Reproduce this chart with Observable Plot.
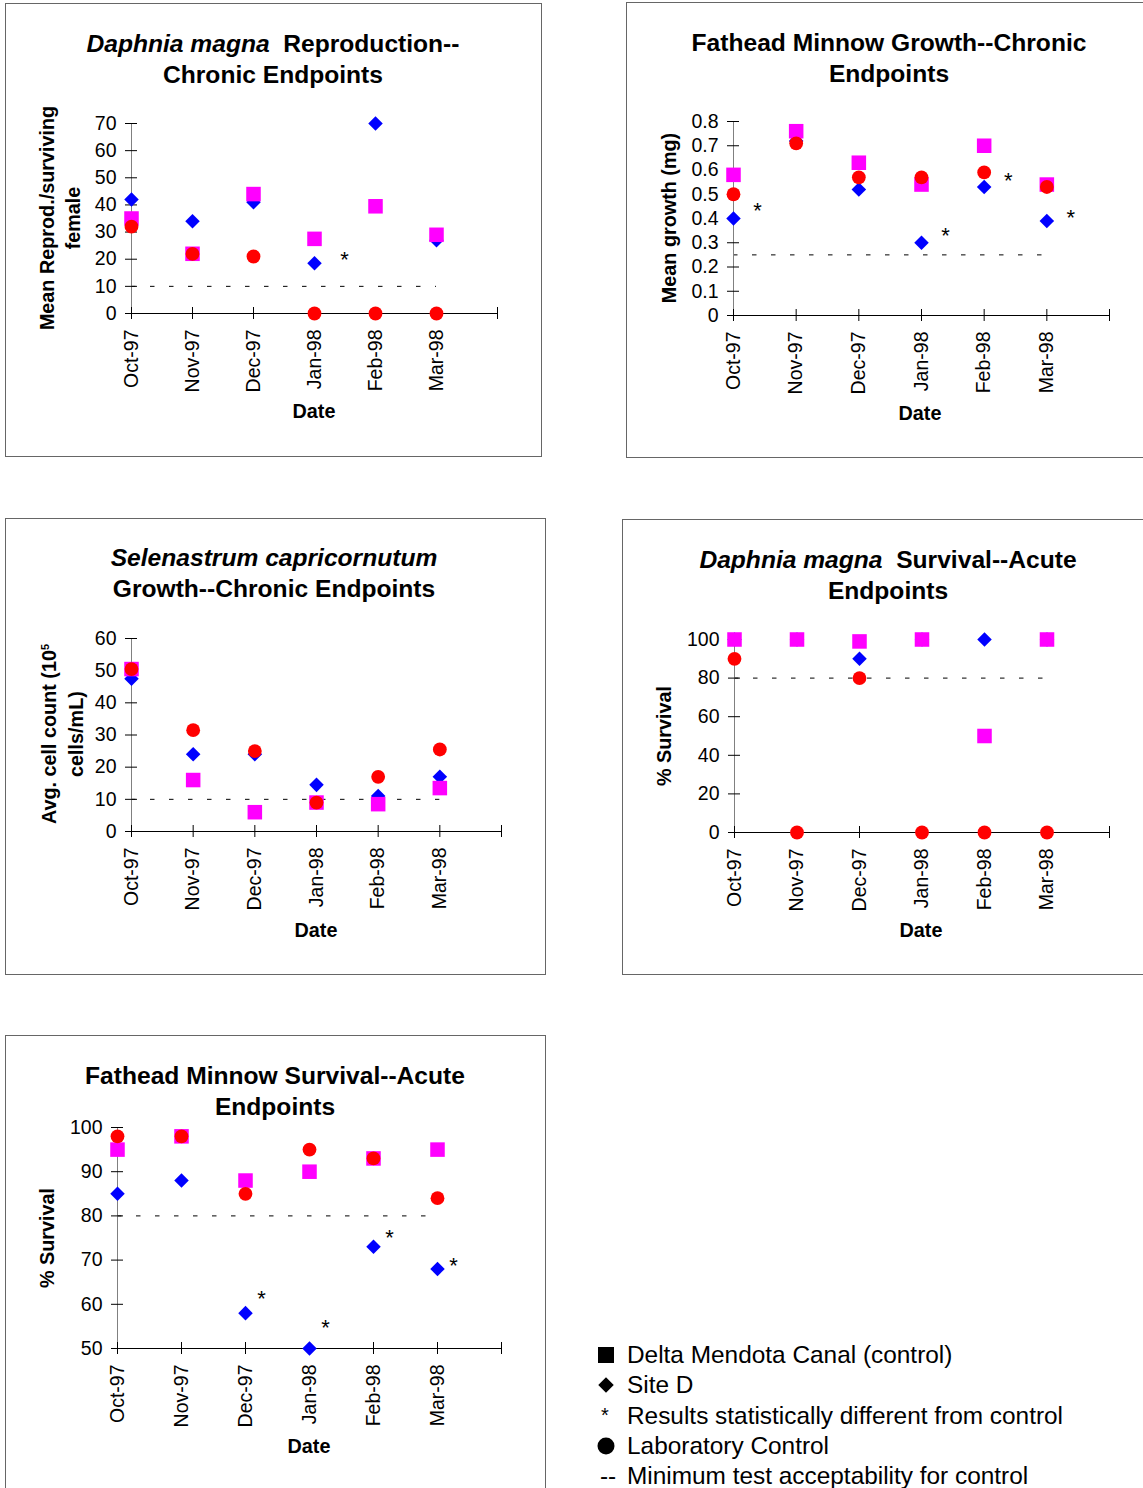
<!DOCTYPE html>
<html><head><meta charset="utf-8">
<script src="https://cdn.jsdelivr.net/npm/d3@7"></script>
<script src="https://cdn.jsdelivr.net/npm/@observablehq/plot@0.6"></script>
<style>
body{margin:0;background:#fff;font-family:"Liberation Sans",Arial,sans-serif;color:#000;}
#page{position:relative;width:1143px;height:1488px;overflow:hidden;background:#fff;}
.box{position:absolute;border:1px solid #666;box-sizing:border-box;}
.title{position:absolute;font-weight:bold;font-size:24.6px;line-height:31px;text-align:center;white-space:nowrap;transform:translate(-50%,0);}
.ylab{position:absolute;font-weight:bold;font-size:19.8px;line-height:26px;text-align:center;white-space:nowrap;transform:translate(-50%,-50%) rotate(-90deg);}
.xlab{position:absolute;font-weight:bold;font-size:19.8px;white-space:nowrap;transform:translate(-50%,-50%);}
.plot{position:absolute;}
.leg{position:absolute;font-size:24.4px;white-space:nowrap;transform:translate(0,-50%);}
.sym{position:absolute;background:#000;transform:translate(-50%,-50%);}
</style>
</head><body><div id="page"></div>
<script>
// ---- data ----
const months = ["Oct-97","Nov-97","Dec-97","Jan-98","Feb-98","Mar-98"];

// Daphnia magna Reproduction
const dmReproCanal = [35, 22, 44, 27.5, 39.5, 29];
const dmReproSiteD = [42, 34, 41, 18.5, 70, 27];
const dmReproLab   = [32, 22, 21, 0, 0, 0];
const dmReproTicks = [0, 10, 20, 30, 40, 50, 60, 70];
const dmReproMin   = 10;
const dmReproSigMonths = ["Jan-98"];
const dmReproSigValues = [22];

// Fathead Minnow Growth
const fhmGrowthCanal = [0.58, 0.76, 0.63, 0.54, 0.70, 0.54];
const fhmGrowthSiteD = [0.40, 0.72, 0.52, 0.30, 0.53, 0.39];
const fhmGrowthLab   = [0.50, 0.71, 0.57, 0.57, 0.59, 0.53];
const fhmGrowthTicks = [0, 0.1, 0.2, 0.3, 0.4, 0.5, 0.6, 0.7, 0.8];
const fhmGrowthMin   = 0.25;
const fhmGrowthSigMonths = ["Oct-97", "Jan-98", "Feb-98", "Mar-98"];
const fhmGrowthSigValues = [0.455, 0.354, 0.579, 0.425];

// Selenastrum capricornutum Growth
const selCanal = [50.5, 16, 6, 9, 8.5, 13.5];
const selSiteD = [47.5, 24, 24, 14.5, 11, 17];
const selLab   = [50.5, 31.5, 25, 9, 17, 25.5];
const selTicks = [0, 10, 20, 30, 40, 50, 60];
const selMin   = 10;
const selSigMonths = [];
const selSigValues = [];

// Daphnia magna Survival
const dmSurvCanal = [100, 100, 99, 100, 50, 100];
const dmSurvSiteD = [100, 100, 90, 100, 100, 100];
const dmSurvLab   = [90, 0, 80, 0, 0, 0];
const dmSurvTicks = [0, 20, 40, 60, 80, 100];
const dmSurvMin   = 80;
const dmSurvSigMonths = [];
const dmSurvSigValues = [];

// Fathead Minnow Survival
const fhmSurvCanal = [95, 98, 88, 90, 93, 95];
const fhmSurvSiteD = [85, 88, 58, 50, 73, 68];
const fhmSurvLab   = [98, 98, 85, 95, 93, 84];
const fhmSurvTicks = [50, 60, 70, 80, 90, 100];
const fhmSurvMin   = 80;
const fhmSurvSigMonths = ["Dec-97", "Jan-98", "Feb-98", "Mar-98"];
const fhmSurvSigValues = [62.5, 55.9, 76.4, 70.0];

const legendItems = ["Delta Mendota Canal (control)", "Site D", "Results statistically different from control", "Laboratory Control", "Minimum test acceptability for control"];

// ---- rendering ----
const page = document.getElementById("page");
function el(cls, css, html) {
  const d = document.createElement("div");
  d.className = cls;
  Object.assign(d.style, css);
  if (html != null) d.innerHTML = html;
  page.appendChild(d);
  return d;
}
const diamond = {
  draw(ctx, size) {
    const s = Math.sqrt(size / 2);
    ctx.moveTo(0, -s); ctx.lineTo(s, 0); ctx.lineTo(0, s); ctx.lineTo(-s, 0); ctx.closePath();
  }
};
function series(vals) { return vals.map((v, i) => ({x: i, y: v})); }

function panel(c) {
  el("box", {left: c.box[0] + "px", top: c.box[1] + "px", width: c.box[2] + "px", height: c.box[3] + "px"});
  el("title", {left: c.titleX + "px", top: c.titleTop + "px"}, c.title);
  el("ylab", {left: c.ylab[0] + "px", top: c.ylab[1] + "px"}, c.ylabel);
  el("xlab", {left: c.xlab[0] + "px", top: c.xlab[1] + "px"}, "Date");
  const [sl, st, sw, sh] = c.svg;
  const [fl, ft, fr, fb] = c.frame;
  const xTicks = d3.range(months.length + 1);
  const sig = c.sigMonths.map((m, i) => ({x: months.indexOf(m), y: c.sigValues[i]}));
  const chart = Plot.plot({
    width: sw, height: sh,
    marginLeft: fl - sl, marginRight: sl + sw - fr,
    marginTop: ft - st, marginBottom: st + sh - fb,
    x: {domain: [0, months.length], axis: null},
    y: {domain: [c.ticks[0], c.ticks[c.ticks.length - 1]], axis: null},
    style: {fontFamily: "'Liberation Sans', Arial, sans-serif", fontSize: "19.5px", background: "transparent", overflow: "visible", color: "#000"},
    marks: [
      Plot.ruleY([c.min], {x1: 0, x2: months.length - 1, stroke: "#000", strokeDasharray: "4.5,14.5"}),
      Plot.ruleX([0], {stroke: "#808080"}),
      Plot.ruleY([c.ticks[0]], {stroke: "#000"}),
      Plot.axisY({ticks: c.ticks, tickSize: 12, dx: 6, tickPadding: 9, fontSize: 19.5, tickFormat: d => String(d), label: null}),
      Plot.axisX({ticks: xTicks, tickSize: 12, dy: -6, tickPadding: 10, tickRotate: -90, tickFormat: i => months[i] ?? "", fontSize: 19.5, label: null}),
      Plot.dot(series(c.siteD), {x: "x", y: "y", symbol: diamond, r: 5.8, fill: "#0000FF", stroke: "none"}),
      Plot.dot(series(c.canal), {x: "x", y: "y", symbol: "square", r: 8.2, fill: "#FF00FF", stroke: "none"}),
      Plot.dot(series(c.lab), {x: "x", y: "y", symbol: "circle", r: 6.9, fill: "#FF0000", stroke: "none"}),
      Plot.text(sig, {x: "x", y: "y", text: () => "*", dx: c.sigDx, dy: 6, fontSize: 22, fill: "#000"})
    ]
  });
  chart.classList.add("plot");
  Object.assign(chart.style, {left: sl + "px", top: st + "px"});
  page.appendChild(chart);
}

panel({
  box: [5, 3, 537, 454], titleX: 273, titleTop: 27.5,
  title: "<i>Daphnia magna</i>&nbsp; Reproduction--<br>Chronic Endpoints",
  ylab: [59.5, 218], ylabel: "Mean Reprod./surviving<br>female", xlab: [314, 411],
  svg: [5, 100, 536, 300], frame: [131, 123, 497, 313],
  canal: dmReproCanal, siteD: dmReproSiteD, lab: dmReproLab, ticks: dmReproTicks, min: dmReproMin,
  sigMonths: dmReproSigMonths, sigValues: dmReproSigValues, sigDx: 30
});
panel({
  box: [626, 2, 530, 456], titleX: 889, titleTop: 26.5,
  title: "Fathead Minnow Growth--Chronic<br>Endpoints",
  ylab: [669, 218], ylabel: "Mean growth (mg)", xlab: [920, 413],
  svg: [626, 100, 517, 300], frame: [733, 121, 1109, 315],
  canal: fhmGrowthCanal, siteD: fhmGrowthSiteD, lab: fhmGrowthLab, ticks: fhmGrowthTicks, min: fhmGrowthMin,
  sigMonths: fhmGrowthSigMonths, sigValues: fhmGrowthSigValues, sigDx: 24
});
panel({
  box: [5, 518, 541, 457], titleX: 274, titleTop: 541.5,
  title: "<i>Selenastrum capricornutum</i><br>Growth--Chronic Endpoints",
  ylab: [59.5, 734], ylabel: "Avg. cell count (10<sup style='font-size:11px'>5</sup><br>cells/mL)", xlab: [316, 930],
  svg: [5, 615, 540, 300], frame: [131, 638, 501, 831],
  canal: selCanal, siteD: selSiteD, lab: selLab, ticks: selTicks, min: selMin,
  sigMonths: selSigMonths, sigValues: selSigValues, sigDx: 20
});
panel({
  box: [622, 519, 530, 456], titleX: 888, titleTop: 543.5,
  title: "<i>Daphnia magna</i>&nbsp; Survival--Acute<br>Endpoints",
  ylab: [664, 736], ylabel: "% Survival", xlab: [921, 930],
  svg: [622, 615, 521, 300], frame: [734, 639, 1109, 832],
  canal: dmSurvCanal, siteD: dmSurvSiteD, lab: dmSurvLab, ticks: dmSurvTicks, min: dmSurvMin,
  sigMonths: dmSurvSigMonths, sigValues: dmSurvSigValues, sigDx: 20
});
panel({
  box: [5, 1035, 541, 500], titleX: 275, titleTop: 1059.5,
  title: "Fathead Minnow Survival--Acute<br>Endpoints",
  ylab: [47, 1238], ylabel: "% Survival", xlab: [309, 1446],
  svg: [5, 1100, 540, 340], frame: [117, 1127, 501, 1348],
  canal: fhmSurvCanal, siteD: fhmSurvSiteD, lab: fhmSurvLab, ticks: fhmSurvTicks, min: fhmSurvMin,
  sigMonths: fhmSurvSigMonths, sigValues: fhmSurvSigValues, sigDx: 16
});

// legend
const legY = [1355, 1385, 1416, 1446, 1476];
legendItems.forEach((t, i) => el("leg", {left: "627px", top: legY[i] + "px"}, t));
el("sym", {left: "606px", top: legY[0] + "px", width: "16px", height: "16px"});
el("sym", {left: "606px", top: legY[1] + "px", width: "11px", height: "11px", transform: "translate(-50%,-50%) rotate(45deg)"});
el("leg", {left: "601px", top: (legY[2] - 1) + "px", fontSize: "20px"}, "*");
el("sym", {left: "606px", top: legY[3] + "px", width: "17px", height: "17px", borderRadius: "50%"});
el("leg", {left: "600px", top: legY[4] + "px"}, "--");
</script>
</body></html>
